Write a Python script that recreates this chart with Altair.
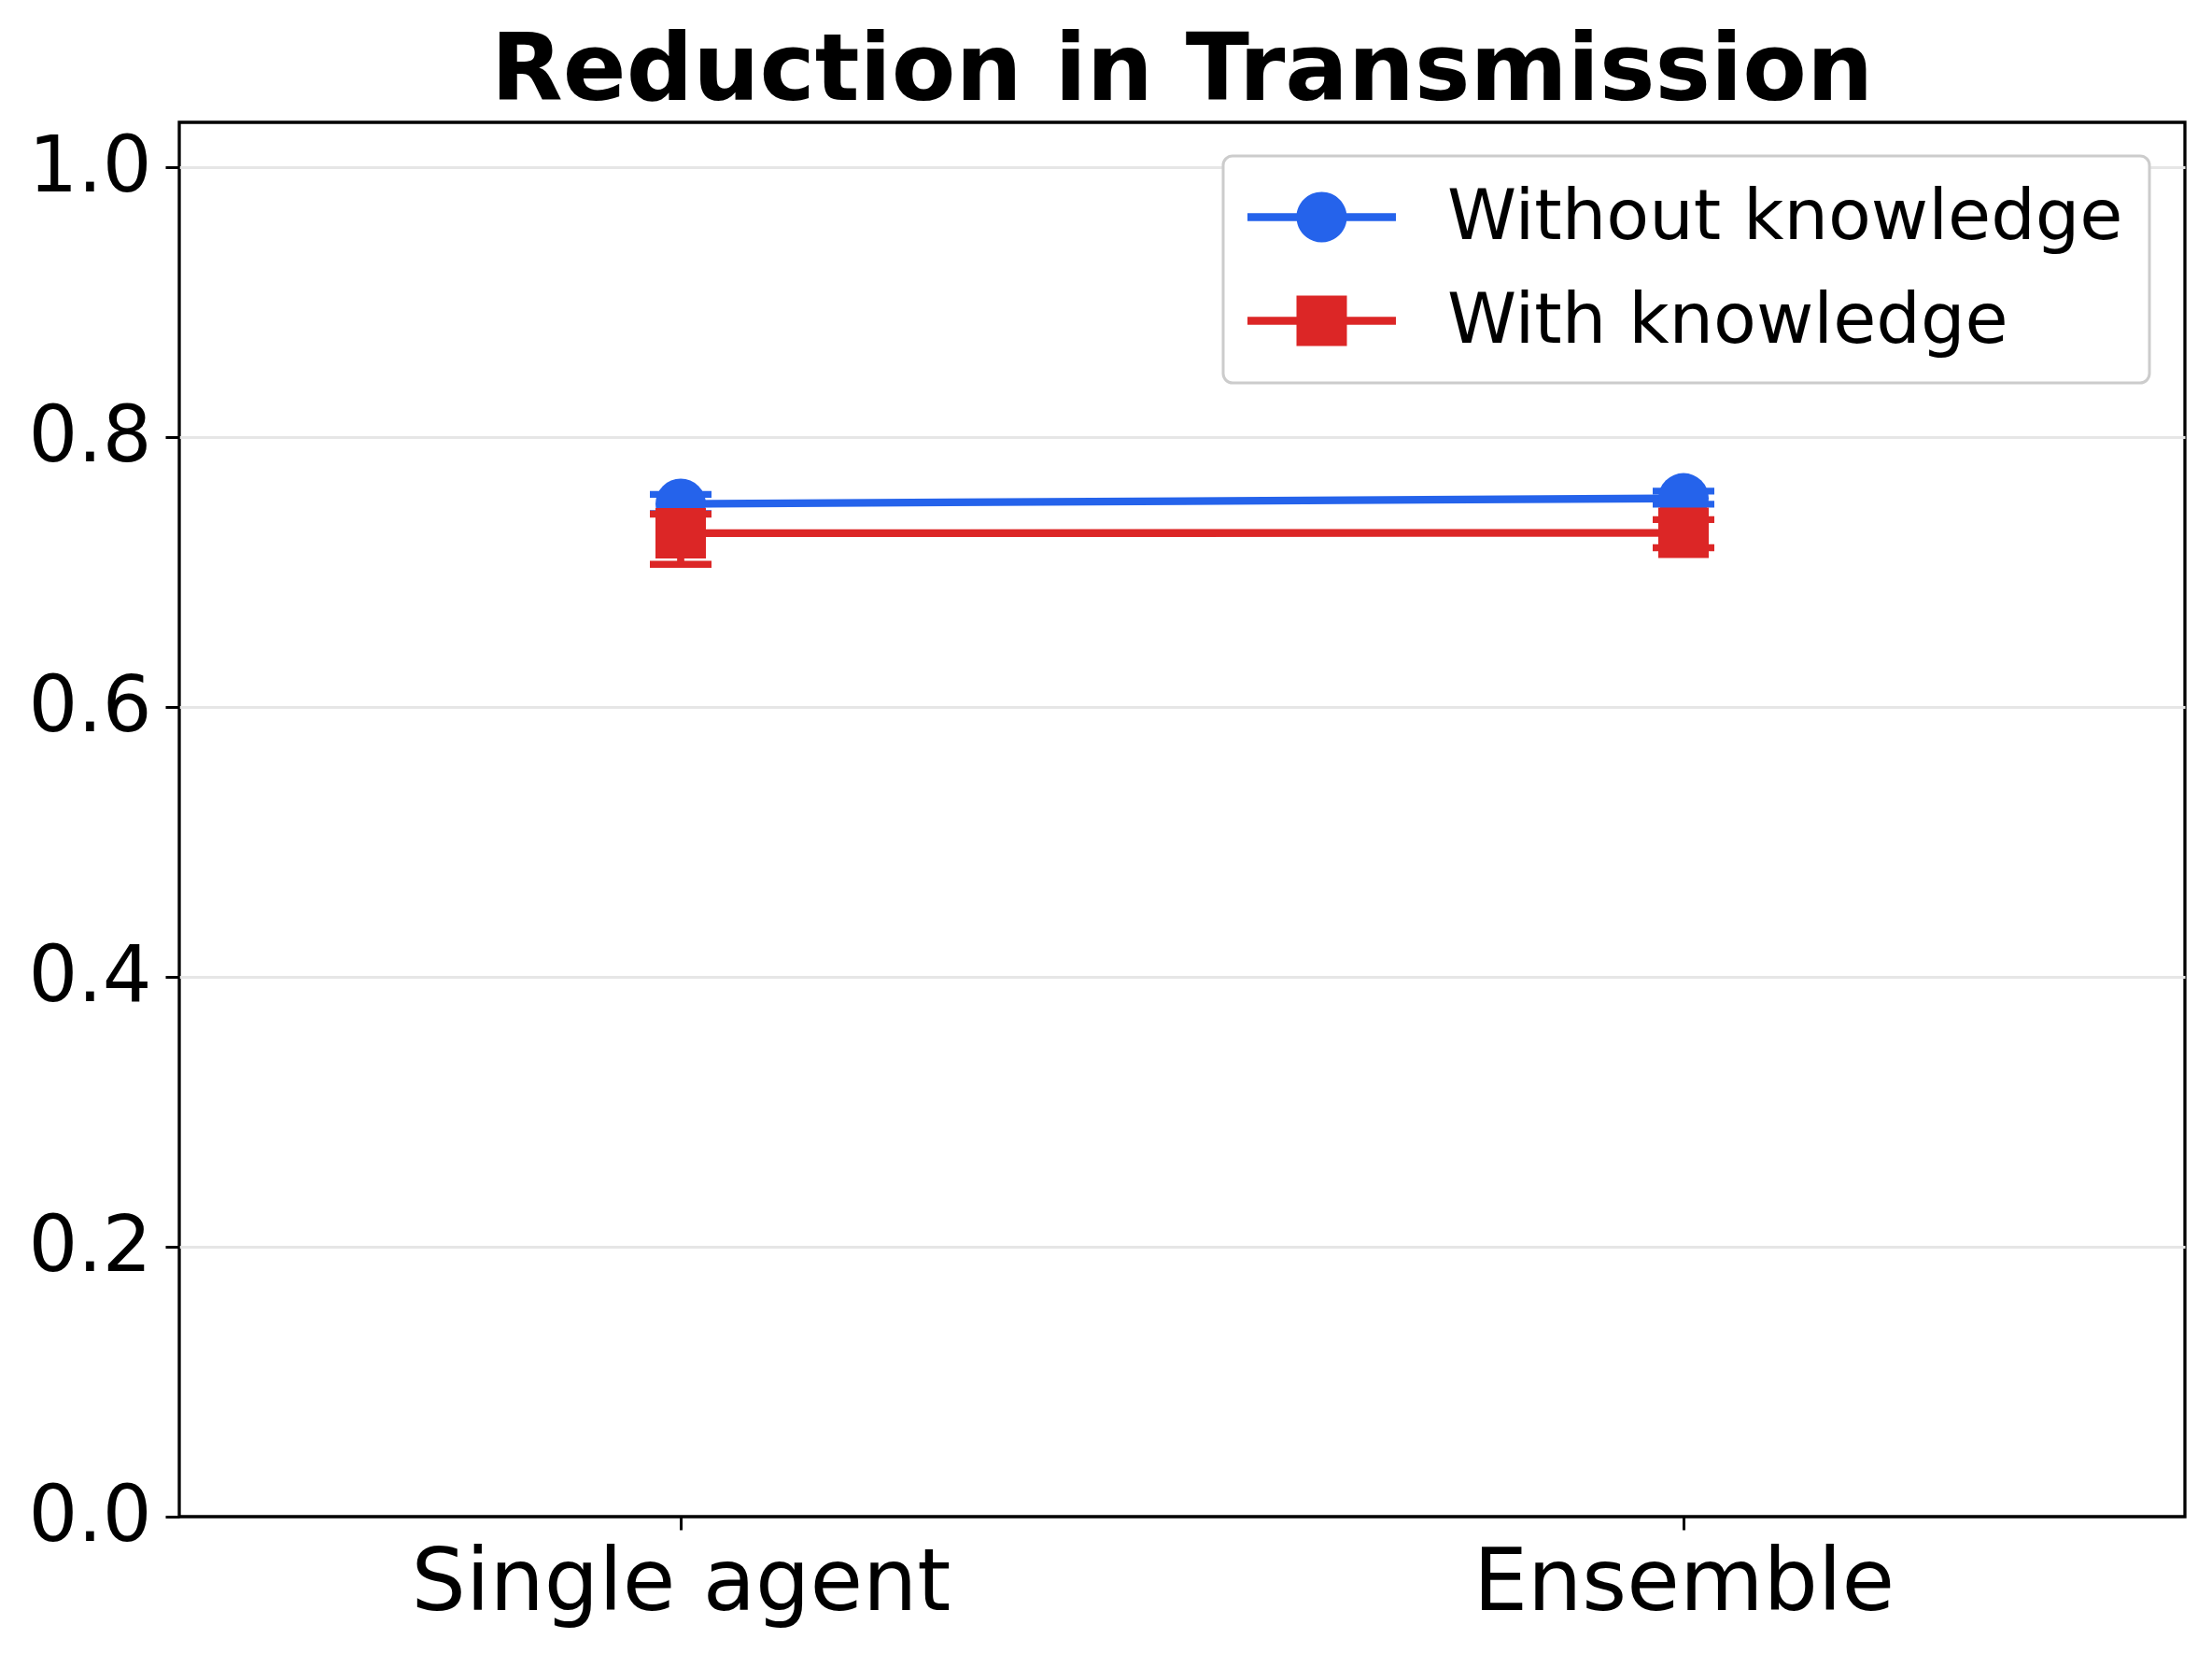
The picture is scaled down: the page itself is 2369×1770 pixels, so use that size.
import altair as alt
import pandas as pd

conditions = ["Single agent", "Ensemble"]
series_names = ["Without knowledge", "With knowledge"]
without_mean = [0.7507, 0.7548]
without_lower = [0.7436, 0.7505]
without_upper = [0.7578, 0.7602]
with_mean = [0.7290, 0.7292]
with_lower = [0.7059, 0.7182]
with_upper = [0.7431, 0.7391]
y_ticks = [0.0, 0.2, 0.4, 0.6, 0.8, 1.0]
colors = ["#2563eb", "#dc2626"]
marker_shapes = ["circle", "square"]

rows = []
for s, m, lo, hi in [
    (series_names[0], without_mean, without_lower, without_upper),
    (series_names[1], with_mean, with_lower, with_upper),
]:
    for c, mv, l, h in zip(conditions, m, lo, hi):
        rows.append(dict(series=s, cond=c, mean=mv, lower=l, upper=h))
df = pd.DataFrame(rows)

FONT = "DejaVu Sans"

X = alt.X(
    "cond:N",
    sort=conditions,
    scale=alt.Scale(type="point", domain=conditions, padding=0.5),
    axis=alt.Axis(
        title=None, labelAngle=0, labelFontSize=92, labelFont=FONT, labelColor="black",
        tickSize=14, tickWidth=3, tickColor="black", labelPadding=12, labelLimit=2000,
        domain=False, grid=False,
    ),
)
yscale = alt.Scale(domain=[0, 1.0335], nice=False, zero=True)
yaxis = alt.Axis(
    title=None, values=y_ticks, format=".1f", labelFontSize=83, labelFont=FONT,
    labelColor="black", tickSize=15, tickWidth=3, tickColor="black", labelLimit=2000,
    labelPadding=15, domain=False, grid=True, gridColor="#e6e6e6", gridWidth=3,
    gridOpacity={"condition": {"test": "datum.value === 0", "value": 0}, "value": 1},
)


def yenc(field):
    return alt.Y(field, scale=yscale, axis=yaxis)


def series_layers(name, color, shape):
    base = alt.Chart(df).transform_filter(alt.datum.series == name)
    bar = base.mark_rule(color=color, strokeWidth=7.7).encode(
        x=X, y=yenc("lower:Q"), y2="upper:Q"
    )
    cap_lo = base.mark_tick(color=color, thickness=7.3, size=66, orient="horizontal", opacity=1).encode(
        x=X, y=yenc("lower:Q")
    )
    cap_hi = base.mark_tick(color=color, thickness=7.3, size=66, orient="horizontal", opacity=1).encode(
        x=X, y=yenc("upper:Q")
    )
    line = base.mark_line(color=color, strokeWidth=8.3).encode(x=X, y=yenc("mean:Q"))
    pts = base.mark_point(shape=shape, filled=True, size=2916, color=color, opacity=1).encode(
        x=X, y=yenc("mean:Q")
    )
    return [bar, cap_lo, cap_hi, line, pts]


circ_path = "M-2.944,-0.154H2.944V0.154H-2.944Z M-1,0A1,1 0 1,1 1,0A1,1 0 1,1 -1,0Z"
sq_path = "M-2.944,-0.154H2.944V0.154H-2.944Z M-1,-1H1V1H-1Z"

legend_kw = dict(
    title=None, orient="none", legendX=1118, legendY=36, padding=28,
    fillColor="white", strokeColor="#cccccc", cornerRadius=10,
    labelFontSize=75, labelFont=FONT, labelColor="black", labelLimit=0,
    symbolSize=2916, symbolOffset=40, labelOffset=97, rowPadding=35,
    symbolStrokeWidth=0, symbolOpacity=1,
)

legend_layer = (
    alt.Chart(df)
    .transform_filter("false")
    .mark_point(filled=True, opacity=1)
    .encode(
        x=X,
        y=yenc("mean:Q"),
        color=alt.Color("series:N", scale=alt.Scale(domain=series_names, range=colors),
                        legend=alt.Legend(**legend_kw)),
        shape=alt.Shape("series:N", scale=alt.Scale(domain=series_names, range=[circ_path, sq_path]),
                        legend=alt.Legend(**legend_kw)),
    )
)

layers = []
for n, c, s in zip(series_names, colors, marker_shapes):
    layers += series_layers(n, c, s)
layers.append(legend_layer)

chart = (
    alt.layer(*layers)
    .properties(
        width=2148,
        height=1493,
        title=alt.TitleParams(
            "Reduction in Transmission", fontSize=100, font=FONT, fontWeight="bold",
            color="black", anchor="middle", offset=3,
        ),
        autosize=alt.AutoSizeParams(type="none"),
        padding={"left": 184, "top": 123, "right": 20, "bottom": 130},
    )
    .configure(background="white")
    .configure_view(stroke="black", strokeWidth=3.3)
    .configure_legend(strokeWidth=3)
)

chart.save("out.html", embed_options={"renderer": "svg", "actions": False})
